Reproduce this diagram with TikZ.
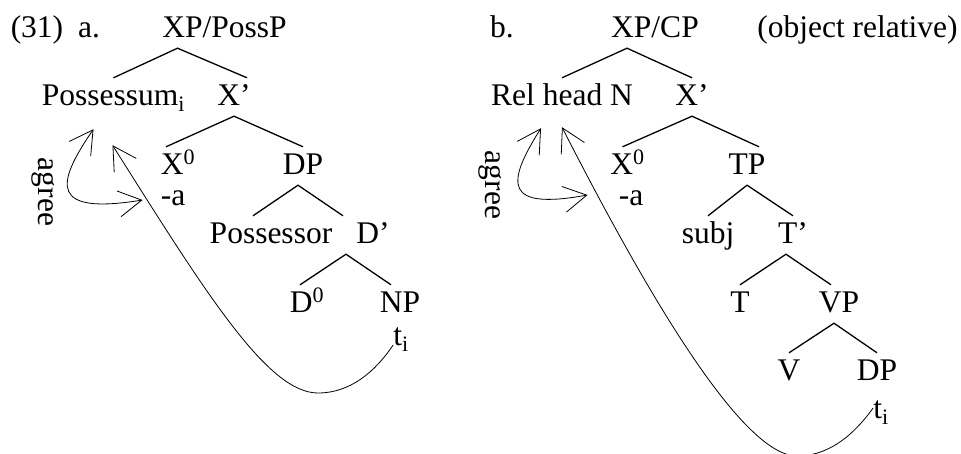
\documentclass[tikz,border=0pt]{standalone}
\usepackage{fontspec}
\setmainfont{Liberation Serif}
\usepackage{tikz}
\usetikzlibrary{arrows.meta}

\begin{document}
\begin{tikzpicture}[
x=1pt,y=-1pt,
word/.style={
font=\fontsize{31.5}{38}\selectfont,
anchor=base,
inner xsep=0pt,inner ysep=5pt,
text height=22pt,text depth=6pt
},
branch/.style={line width=1.3pt},
move/.style={line width=0.8pt,arrows={-Straight Barb[length=23pt,width=26pt]}},
agree/.style={line width=0.8pt,arrows={Straight Barb[length=23pt,width=26pt]-Straight Barb[length=23pt,width=26pt]}}
]
\useasboundingbox (0,0) rectangle (961,453);

\node[word] (num) at (37,37) {(31)};
\node[word] (labA) at (89,37) {a.};
\node[word] (xpA) at (224.5,37) {XP/PossP};
\node[word] (possA) at (113.5,105) {Possessum\textsubscript{i}};
\node[word] (xbarA) at (234,105) {X’};
\node[word] (x0A) at (178,174) {X\textsuperscript{0}};
\node[word] (aA) at (173,205) {-a};
\node[word] (dpA) at (303,174) {DP};
\node[word] (possrA) at (271,243) {Possessor};
\node[word] (dbarA) at (373,243) {D’};
\node[word] (d0A) at (307,312) {D\textsuperscript{0}};
\node[word] (npA) at (400,312) {NP};
\node[word] (tA) at (401,345) {t\textsubscript{i}};
\node[word,anchor=center,rotate=-90] (agreeA) at (46,192) {agree};

\node[word] (labB) at (502,37) {b.};
\node[word] (xpB) at (655,37) {XP/CP};
\node[word] (objrel) at (857.5,37) {(object relative)};
\node[word] (relN) at (562,105) {Rel head N};
\node[word] (xbarB) at (692,105) {X’};
\node[word] (x0B) at (627.5,174) {X\textsuperscript{0}};
\node[word] (aB) at (631,205) {-a};
\node[word] (tpB) at (747,174) {TP};
\node[word] (subj) at (708,243) {subj};
\node[word] (tbar) at (793,243) {T’};
\node[word] (tB) at (740,312) {T};
\node[word] (vpB) at (839,312) {VP};
\node[word] (vB) at (789,380) {V};
\node[word] (dpB) at (877,380) {DP};
\node[word] (tiB) at (881,418) {t\textsubscript{i}};
\node[word,anchor=center,rotate=-90] (agreeB) at (493,185) {agree};

\draw[branch] (possA.north) -- ([xshift=-47pt]xpA.south) -- ([xshift=13pt]xbarA.north);
\draw[branch] ([xshift=-12pt]x0A.north) -- (xbarA.south) -- (dpA.north);
\draw[branch] ([xshift=-18pt]possrA.north) -- ([xshift=-5pt]dpA.south) -- ([xshift=-30pt]dbarA.north);
\draw[branch] ([xshift=-7pt]d0A.north) -- ([xshift=-27pt]dbarA.south) -- ([xshift=-9pt]npA.north);

\draw[branch] (relN.north) -- ([xshift=-28pt]xpB.south) -- (xbarB.north);
\draw[branch] ([xshift=-5pt]x0B.north) -- (xbarB.south) -- ([xshift=12pt]tpB.north);
\draw[branch] (subj.north) -- (tpB.south) -- (tbar.north);
\draw[branch] (tB.north) -- ([xshift=-7pt]tbar.south) -- ([xshift=-8pt]vpB.north);
\draw[branch] (vB.north) -- ([xshift=-5pt]vpB.south) -- (dpB.north);

\draw[agree] ([xshift=-20pt,yshift=-13pt]possA.south) .. controls (55,185) and (50,215) .. ([xshift=-18pt,yshift=-3pt]aA.west);
\draw[move] (tA.base west) .. controls (375,372) and (350,393) .. (318,393)
  .. controls (268,393) and (207,295) .. ([xshift=-1pt,yshift=-29pt]possA.south);

\draw[agree] ([xshift=-21pt,yshift=-12pt]relN.south) .. controls (505,185) and (505,210) .. ([xshift=-31pt,yshift=2pt]aB.west);
\draw[move] ([yshift=10pt]tiB.base west) .. controls (850,440) and (825,456) .. (797,456)
  .. controls (740,456) and (640,280) .. ([yshift=-11pt]relN.south);

\end{tikzpicture}
\end{document}
